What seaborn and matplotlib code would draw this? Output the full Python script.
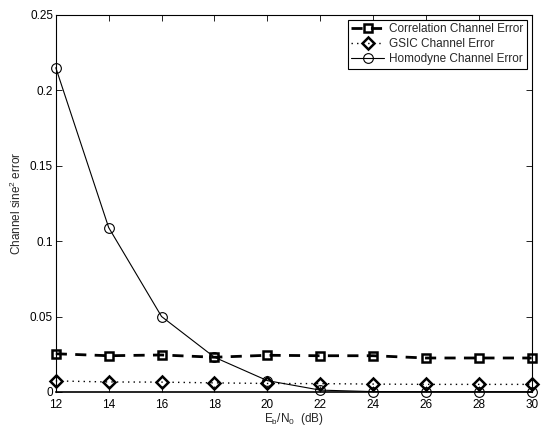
import numpy as np
import pandas as pd
import matplotlib
matplotlib.use("Agg")
import matplotlib.pyplot as plt
import seaborn as sns

snr = [12, 14, 16, 18, 20, 22, 24, 26, 28, 30]
corr_err = [0.0253, 0.0240, 0.0245, 0.0230, 0.0243, 0.0240, 0.0240, 0.0225, 0.0225, 0.0225]
gsic_err = [0.0073, 0.0066, 0.0065, 0.0060, 0.0056, 0.0055, 0.0052, 0.0050, 0.0050, 0.0050]
homo_err = [0.215, 0.109, 0.050, 0.023, 0.0075, 0.0012, 0.0002, 0.0001, 0.0001, 0.0001]

sns.set_theme(style="white")
plt.rcParams['font.family'] = ['Liberation Sans', 'DejaVu Sans']
plt.rcParams['mathtext.default'] = 'regular'

fig = plt.figure(figsize=(5.47, 4.26), dpi=100)
ax = fig.add_axes([0.102, 0.08, 0.870, 0.885])

df = pd.DataFrame({"snr": snr, "corr": corr_err, "gsic": gsic_err, "homo": homo_err})

sns.lineplot(data=df, x="snr", y="corr", ax=ax, color="black", linestyle=(0, (4, 3)),
             linewidth=2, marker="s", markersize=5.5, markerfacecolor="none",
             markeredgecolor="black", markeredgewidth=1.8, clip_on=False,
             label="Correlation Channel Error")
sns.lineplot(data=df, x="snr", y="gsic", ax=ax, color="black", linestyle=(0, (1, 3)),
             linewidth=1, marker="D", markersize=6, markerfacecolor="none",
             markeredgecolor="black", markeredgewidth=1.8, clip_on=False,
             label="GSIC Channel Error")
sns.lineplot(data=df, x="snr", y="homo", ax=ax, color="black", linestyle="-",
             linewidth=0.8, marker="o", markersize=7, markerfacecolor="none",
             markeredgecolor="black", markeredgewidth=0.8, clip_on=False,
             label="Homodyne Channel Error")

ax.set_xlim(12, 30)
ax.set_ylim(0, 0.25)
ax.set_xticks(snr)
ax.set_xticklabels([str(s) for s in snr])
ax.set_yticks([0, 0.05, 0.1, 0.15, 0.2, 0.25])
ax.set_yticklabels(["0", "0.05", "0.1", "0.15", "0.2", "0.25"])
ax.tick_params(direction="in", length=4, width=0.6, labelsize=8.5, pad=2,
               top=True, right=True, bottom=True, left=True, colors="black")
ax.tick_params(axis="x", pad=5)
for s in ax.spines.values():
    s.set_color("black")
    s.set_linewidth(0.8)
ax.spines["bottom"].set_linewidth(1.2)

ax.set_xlabel(r"E$_b$/N$_0$  (dB)", fontsize=8.5, labelpad=0)
ax.set_ylabel(r"Channel sine$^2$ error", fontsize=8.5, labelpad=4)

leg = ax.legend(loc="upper right", fontsize=8.5, frameon=True, fancybox=False,
                edgecolor="black", framealpha=1, borderpad=0.3, labelspacing=0.25,
                handlelength=2.8, handletextpad=0.4, borderaxespad=0.4)
leg.get_frame().set_linewidth(0.8)

fig.savefig("out.png", dpi=100)
